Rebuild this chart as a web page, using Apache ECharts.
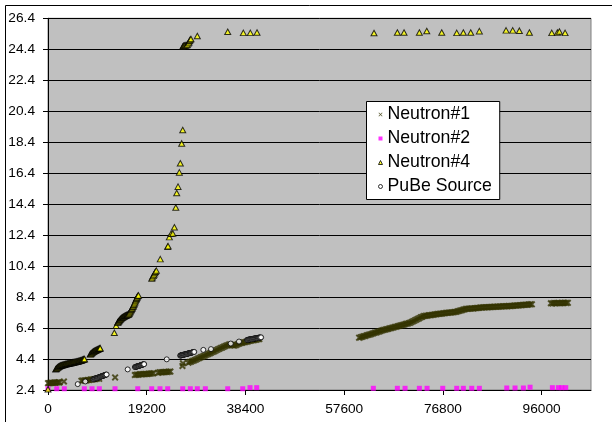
<!DOCTYPE html>
<html><head><meta charset="utf-8">
<script src="https://cdn.jsdelivr.net/npm/echarts@6/dist/echarts.min.js"></script>
<style>html,body{margin:0;padding:0;background:#fff}#c{width:612px;height:422px}</style>
</head><body><div id="c"></div>
<script>
const seriesNames = ['Neutron#1', 'Neutron#2', 'Neutron#4', 'PuBe Source'];
const xTicks = [0, 19200, 38400, 57600, 76800, 96000];
const yTicks = [2.4, 4.4, 6.4, 8.4, 10.4, 12.4, 14.4, 16.4, 18.4, 20.4, 22.4, 24.4, 26.4];

const neutron1 = [
  [0,2.84],[250,2.86],[500,2.85],[750,2.87],[1000,2.86],[1250,2.88],[1500,2.87],[1750,2.89],[2000,2.90],[2250,2.89],
  [3100,2.95],
  [6500,2.99],[6800,3.01],[7100,3.02],[7400,3.02],[7700,3.04],[8000,3.05],[8300,3.07],[8600,3.08],[8900,3.09],[9200,3.11],[9500,3.12],[9950,3.12],
  [13050,3.21],
  [16900,3.37],[17200,3.39],[17500,3.39],[17800,3.41],[18100,3.42],[18400,3.42],[18700,3.43],[19000,3.43],[19300,3.44],[19600,3.45],[19900,3.46],[20200,3.47],[20500,3.48],
  [21400,3.52],[21700,3.54],[22000,3.54],[22300,3.55],[22600,3.56],[22900,3.57],[23200,3.57],[23500,3.58],[23800,3.59],
  [26150,3.95],[26250,4.12],
  [27300,4.16],[27600,4.21],[27900,4.24],[28200,4.29],[28500,4.32],[28800,4.37],[29100,4.42],[29400,4.46],[29700,4.51],[30000,4.55],
  [30300,4.60],[30600,4.64],[30900,4.69],[31200,4.73],[31500,4.77],[31800,4.82],[32100,4.87],[32400,4.91],[32700,4.97],[33000,5.01],
  [33300,5.06],[33600,5.11],[33900,5.15],[34200,5.20],[34500,5.24],[34800,5.28],[35100,5.32],[35400,5.35],[35700,5.31],[36000,5.28],
  [36300,5.27],[36600,5.31],[36900,5.36],[37200,5.40],[37500,5.43],[37800,5.45],[38100,5.48],[38400,5.50],[38700,5.52],[39000,5.55],
  [39300,5.58],[39600,5.60],[39900,5.62],[40200,5.63],[40500,5.65],[40800,5.67],[41100,5.69],
  [60500,5.78],[60800,5.80],[61100,5.84],[61400,5.87],[61700,5.89],[62000,5.93],[62300,5.96],[62600,5.98],[62900,6.02],[63200,6.05],
  [63500,6.09],[63800,6.11],[64100,6.15],[64400,6.18],[64700,6.21],[65000,6.25],[65300,6.28],[65600,6.30],[65900,6.33],[66200,6.35],
  [66500,6.38],[66800,6.41],[67100,6.43],[67400,6.46],[67700,6.49],[68000,6.51],[68300,6.55],[68600,6.57],[68900,6.60],[69200,6.62],
  [69500,6.66],[69800,6.68],[70100,6.71],[70400,6.74],[70700,6.79],[71000,6.84],[71300,6.88],[71600,6.94],[71900,6.99],[72200,7.04],
  [72500,7.09],[72800,7.13],[73100,7.17],[73400,7.19],[73700,7.20],[74000,7.22],[74300,7.23],[74600,7.25],[74900,7.26],[75200,7.28],
  [75500,7.29],[75800,7.31],[76100,7.32],[76400,7.33],[76700,7.34],[77000,7.35],[77300,7.37],[77600,7.38],[77900,7.39],[78200,7.40],
  [78500,7.41],[78800,7.42],[79100,7.43],[79400,7.45],[79700,7.48],[80000,7.51],[80300,7.54],[80600,7.57],[80900,7.60],[81200,7.63],
  [81500,7.64],[81800,7.65],[82100,7.66],[82400,7.67],[82700,7.67],[83000,7.68],[83300,7.69],[83600,7.70],[83900,7.71],[84200,7.72],
  [84500,7.73],[84800,7.74],[85100,7.74],[85400,7.75],[85700,7.75],[86000,7.76],[86300,7.76],[86600,7.77],[86900,7.77],[87200,7.78],
  [87500,7.78],[87800,7.79],[88100,7.79],[88400,7.80],[88700,7.80],[89000,7.81],[89300,7.81],[89600,7.82],[89900,7.82],[90200,7.83],
  [90500,7.84],[90800,7.85],[91100,7.86],[91400,7.86],[91700,7.87],[92000,7.88],[92300,7.89],[92600,7.90],[92900,7.90],[93200,7.91],
  [93500,7.92],[93800,7.93],[94100,7.93],
  [97800,8.00],[98100,7.99],[98400,8.01],[98700,8.00],[99000,8.02],[99300,8.01],[99600,8.00],[99900,8.02],[100200,8.01],[100500,8.03],[100800,8.02],[101100,8.03]
];

const neutron2 = [
  [0,2.48],[1700,2.48],[3170,2.48],[7060,2.48],[8560,2.48],[9980,2.48],[13030,2.48],[17450,2.48],[20170,2.48],[21780,2.48],
  [23280,2.48],[26200,2.48],[27680,2.48],[29040,2.48],[30600,2.48],[34950,2.48],[37870,2.48],[39290,2.55],[40590,2.55],
  [63270,2.51],[67940,2.51],[69440,2.51],[72220,2.51],[73720,2.51],[76770,2.51],[79490,2.51],[80770,2.51],[82410,2.51],[83890,2.51],
  [89220,2.53],[90830,2.53],[92450,2.53],[93750,2.58],[98090,2.55],[99250,2.55],[99910,2.55],[100690,2.55]
];

const neutron4 = [
  [0,2.45],
  [1500,3.74],[1600,3.77],[1700,3.80],[1800,3.83],[1900,3.86],[2000,3.89],[2100,3.91],[2200,3.93],[2300,3.95],[2400,3.97],
  [2500,3.98],[2600,3.99],[2700,4.00],[2800,4.01],[2900,4.02],[3000,4.03],[3100,4.04],[3200,4.05],[3300,4.06],[3400,4.07],
  [3500,4.08],[3600,4.08],[3700,4.09],[3800,4.10],[3900,4.11],[4000,4.11],[4100,4.12],[4200,4.13],[4300,4.14],[4400,4.14],
  [4500,4.15],[4600,4.16],[4700,4.17],[4800,4.18],[4900,4.18],[5000,4.19],[5100,4.20],[5200,4.21],[5300,4.21],[5400,4.22],
  [5500,4.23],[5600,4.24],[5700,4.24],[5800,4.25],[5900,4.26],[6000,4.27],[6100,4.28],[6200,4.29],[6300,4.30],[6400,4.31],
  [6500,4.32],[6600,4.33],[6700,4.35],[6800,4.36],[6900,4.38],[7000,4.39],[7100,4.40],
  [8200,4.70],[8300,4.73],[8400,4.76],[8500,4.79],[8600,4.82],[8700,4.85],[8800,4.87],[8900,4.89],[9000,4.91],[9100,4.93],
  [9200,4.95],[9300,4.97],[9400,4.98],[9500,5.00],[9600,5.01],[9700,5.03],[9800,5.04],[9900,5.06],[10000,5.07],[10100,5.09],[10150,5.10],
  [12900,6.10],[13250,6.55],[13550,6.75],
  [13600,6.78],[13700,6.82],[13800,6.86],[13900,6.90],[14000,6.94],[14100,6.98],[14200,7.01],[14300,7.04],[14400,7.07],[14500,7.09],
  [14600,7.11],[14700,7.13],[14800,7.15],[14900,7.17],[15000,7.19],[15100,7.20],[15200,7.22],[15300,7.23],[15400,7.25],[15500,7.26],
  [15600,7.28],[15700,7.30],[15800,7.34],[15900,7.40],[16000,7.47],[16100,7.53],[16200,7.58],[16300,7.64],[16400,7.70],[16500,7.77],
  [16600,7.83],[16700,7.90],[16800,7.98],[16900,8.06],[17000,8.14],[17100,8.22],[17200,8.29],[17300,8.36],[17400,8.43],[17500,8.48],[17600,8.51],
  [20180,9.60],[20300,9.68],[20490,9.77],[20620,9.86],[20760,9.95],[20900,10.03],[21070,10.11],
  [21840,10.85],[23280,11.65],[23350,11.69],
  [23600,12.27],[23940,12.49],[24270,12.50],[24580,12.91],
  [24850,14.18],[25030,15.12],[25290,15.53],[25540,16.45],[25730,17.04],[26000,18.32],[26200,19.19],
  [26200,24.56],[26300,24.60],[26400,24.62],[26500,24.64],[26650,24.66],[26800,24.65],[27000,24.67],[27100,24.70],[27300,24.78],[27420,24.85],[27550,24.95],[27650,25.03],[27800,25.06],
  [29040,25.26],[34950,25.53],[37990,25.46],[39350,25.46],[40650,25.48],
  [63400,25.45],[67940,25.48],[69240,25.48],[72220,25.48],[73660,25.58],[76570,25.48],[79490,25.46],[80770,25.48],[82210,25.48],[83890,25.57],
  [89080,25.62],[90380,25.62],[91670,25.60],[93620,25.48],[97970,25.46],[99060,25.48],[99450,25.55],[100560,25.46]
];

const pube = [
  [5780,2.78],[7260,2.95],
  [8800,3.09],[8900,3.10],[9000,3.11],[9100,3.13],[9200,3.14],[9300,3.15],[9400,3.16],[9500,3.17],[9600,3.18],[9700,3.19],
  [9800,3.21],[9900,3.22],[10000,3.23],[10100,3.24],[10200,3.26],[10300,3.27],[10400,3.28],[10500,3.29],[10600,3.31],[10700,3.32],
  [10800,3.33],[10900,3.34],[11000,3.35],[11100,3.37],[11200,3.38],[11300,3.39],[11400,3.40],
  [15500,3.73],
  [16900,3.88],[17000,3.89],[17100,3.90],[17200,3.91],[17300,3.92],[17400,3.93],[17500,3.94],[17600,3.95],[17700,3.96],[17800,3.97],
  [17900,3.98],[18000,4.00],[18100,4.01],[18200,4.02],[18300,4.03],[18400,4.04],[18500,4.05],[18600,4.06],[18700,4.07],
  [23090,4.38],
  [25700,4.62],[25800,4.63],[25900,4.64],[26000,4.65],[26100,4.66],[26200,4.67],[26300,4.67],[26400,4.68],[26500,4.69],[26600,4.70],
  [26700,4.71],[26800,4.72],[26900,4.73],[27000,4.73],[27100,4.74],[27200,4.75],[27300,4.76],[27400,4.77],[27500,4.78],[27600,4.79],
  [27700,4.79],[27800,4.80],[27900,4.81],[28000,4.82],[28100,4.83],[28200,4.84],[28300,4.85],[28450,4.86],
  [30210,4.99],[31700,5.04],[35540,5.40],[37150,5.53],
  [38700,5.63],[38800,5.64],[38900,5.64],[39000,5.65],[39100,5.66],[39200,5.66],[39300,5.67],[39400,5.68],[39500,5.68],[39600,5.69],
  [39700,5.69],[39800,5.70],[39900,5.71],[40000,5.71],[40100,5.72],[40200,5.73],[40300,5.73],[40400,5.74],[40500,5.74],[40600,5.75],
  [40700,5.76],[40800,5.76],[40900,5.77],[41000,5.78],[41100,5.78],[41200,5.79],[41300,5.79],[41450,5.80]
];

const FONT = '"Liberation Sans", Arial, sans-serif';
const crossPath = 'path://M0,2L2,0L5,3L8,0L10,2L7,5L10,8L8,10L5,7L2,10L0,8L3,5Z';
const crossPathThin = 'path://M0,1.2L1.2,0L5,3.8L8.8,0L10,1.2L6.2,5L10,8.8L8.8,10L5,6.2L1.2,10L0,8.8L3.8,5Z';

const chart = echarts.init(document.getElementById('c'), null, {renderer: 'canvas'});
chart.setOption({
  animation: false,
  backgroundColor: '#ffffff',
  graphic: [{
    type: 'rect', silent: true, z: 100,
    shape: {x: 5.5, y: 5.5, width: 700, height: 500},
    style: {fill: 'none', stroke: '#000', lineWidth: 1}
  }],
  grid: {
    left: 48, top: 18.3, width: 543, height: 371.7,
    show: true, backgroundColor: '#C0C0C0', borderColor: '#808080', borderWidth: 1
  },
  legend: {
    orient: 'vertical', left: 366.5, top: 101.5,
    padding: [3, 8, 3, 11.5], itemGap: 4, itemWidth: 4, itemHeight: 4,
    backgroundColor: '#ffffff', borderColor: '#000', borderWidth: 1, borderRadius: 0,
    textStyle: {fontSize: 17.7, lineHeight: 20, fontFamily: FONT, color: '#000'},
    data: [
      {name: seriesNames[0], icon: crossPathThin, itemStyle: {color: '#333300', borderWidth: 0}},
      {name: seriesNames[1], icon: 'rect', itemStyle: {color: '#FF00FF', borderWidth: 0}},
      {name: seriesNames[2], icon: 'triangle', itemStyle: {color: '#FFFF00', borderColor: '#000', borderWidth: 1}},
      {name: seriesNames[3], icon: 'circle', itemStyle: {color: '#ffffff', borderColor: '#000', borderWidth: 1}}
    ]
  },
  xAxis: {
    type: 'value', min: 0, max: 105600, interval: 19200,
    axisLine: {show: true, onZero: false, lineStyle: {color: '#000', width: 1}},
    axisTick: {show: true, length: 5, customValues: xTicks, lineStyle: {color: '#000'}},
    axisLabel: {customValues: xTicks, formatter: v => String(Math.round(v)), color: '#000', fontSize: 13.7, fontFamily: FONT, margin: 12},
    splitLine: {show: false}
  },
  yAxis: {
    type: 'value', min: 2.4, max: 26.4,
    axisLine: {show: true, onZero: false, lineStyle: {color: '#000', width: 1}},
    axisTick: {show: true, length: 5, customValues: yTicks, lineStyle: {color: '#000'}},
    axisLabel: {customValues: yTicks, formatter: v => Number(v).toFixed(1), color: '#000', fontSize: 13.7, fontFamily: FONT, margin: 13},
    splitLine: {show: true, lineStyle: {color: '#000', width: 1}}
  },
  series: [
    {name: seriesNames[0], type: 'scatter', data: neutron1, symbol: crossPath, symbolSize: 7,
     itemStyle: {color: '#333300'}, emphasis: {disabled: true}},
    {name: seriesNames[1], type: 'scatter', data: neutron2, symbol: 'rect', symbolSize: 5,
     itemStyle: {color: '#FF00FF'}, emphasis: {disabled: true}},
    {name: seriesNames[2], type: 'scatter', data: neutron4, symbol: 'triangle', symbolSize: [6, 5.5],
     itemStyle: {color: '#FFFF00', borderColor: '#000', borderWidth: 1}, emphasis: {disabled: true}},
    {name: seriesNames[3], type: 'scatter', data: pube, symbol: 'circle', symbolSize: 5,
     itemStyle: {color: '#ffffff', borderColor: '#000', borderWidth: 1}, emphasis: {disabled: true}}
  ]
});
</script></body></html>
